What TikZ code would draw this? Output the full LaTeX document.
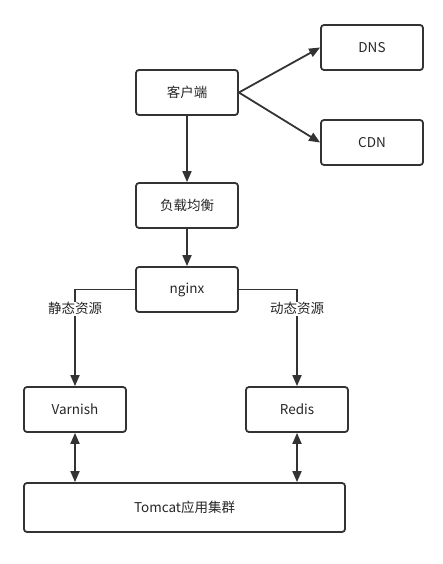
\documentclass[tikz,border=0pt]{standalone}
\usepackage{fontspec}
\setmainfont{Noto Sans CJK SC}
\usetikzlibrary{arrows.meta}
\tikzset{
  box/.style={draw=black!80, line width=1.8pt, rounded corners=3pt, minimum width=102pt, minimum height=45pt, inner sep=0pt, font=\fontsize{13.5}{16}\selectfont, text=black!85},
  conn/.style={draw=black!80, line width=1.8pt, -{Triangle[length=11pt,width=9pt]}},
  dconn/.style={draw=black!80, line width=1.8pt, {Triangle[length=11pt,width=9pt]}-{Triangle[length=11pt,width=9pt]}},
  lbl/.style={fill=white, inner sep=1pt, font=\fontsize{13.5}{16}\selectfont, text=black!85}
}
\begin{document}
\begin{tikzpicture}[x=1pt,y=-1pt]
\useasboundingbox (0,0) rectangle (442,564);
\node[box] (client) at (187,92.5) {客户端};
\node[box] (dns) at (372,47.5) {DNS};
\node[box] (cdn) at (372,142.5) {CDN};
\node[box] (lb) at (187,205.5) {负载均衡};
\node[box] (nginx) at (187,289.5) {nginx};
\node[box] (varnish) at (75,409.5) {Varnish};
\node[box] (redis) at (297,409.5) {Redis};
\node[box, minimum width=321pt, minimum height=49pt] (tomcat) at (184.5,507.5) {Tomcat应用集群};
\draw[conn] (client.east) -- (dns.west);
\draw[conn] (client.east) -- (cdn.west);
\draw[conn] (client) -- (lb);
\draw[conn] (lb) -- (nginx);
\draw[conn] (nginx.west) -| node[lbl, pos=0.6] (l1) {静态资源} (varnish.north);
\draw[conn] (nginx.east) -| node[lbl, pos=0.6] (l2) {动态资源} (redis.north);
\draw[dconn] (varnish.south) -- (varnish.south |- tomcat.north);
\draw[dconn] (redis.south) -- (redis.south |- tomcat.north);
\end{tikzpicture}
\end{document}
